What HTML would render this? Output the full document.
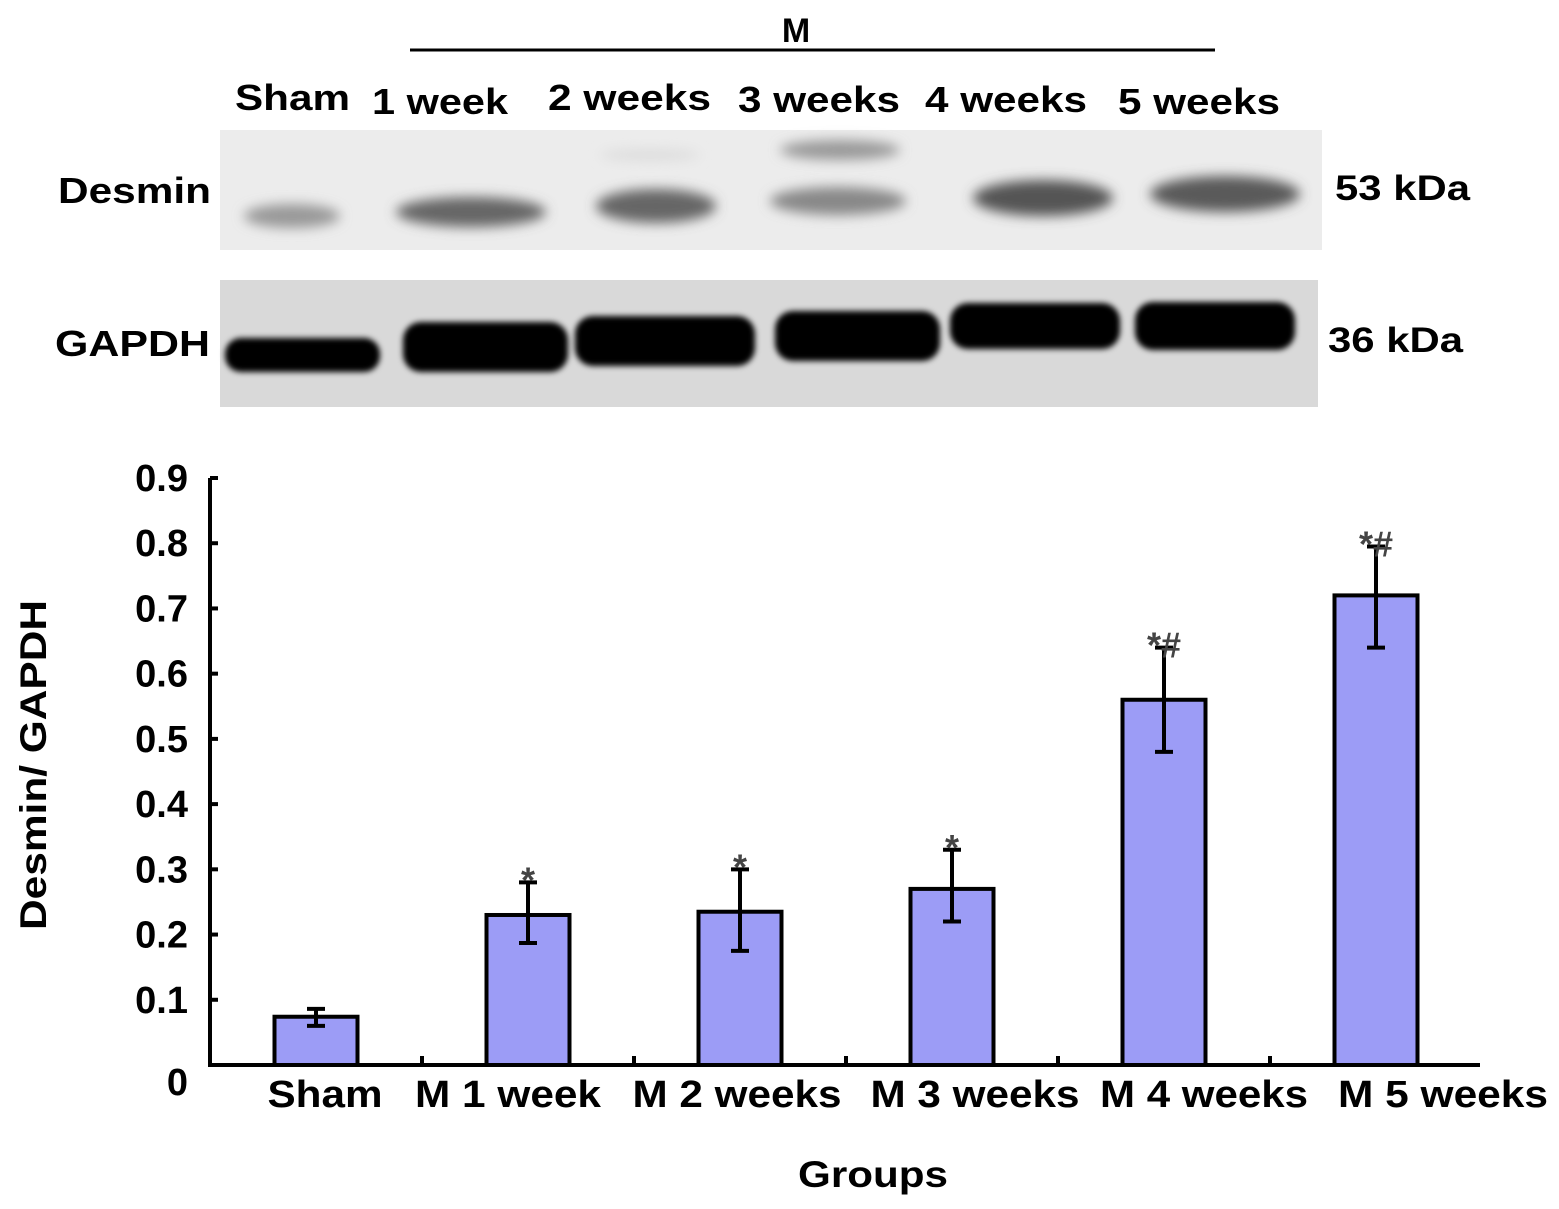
<!DOCTYPE html>
<html><head><meta charset="utf-8"><style>
body{margin:0;background:#fff;}
svg{display:block;font-family:"Liberation Sans",Arial,sans-serif;font-weight:bold;}
</style></head><body>
<svg width="1559" height="1209" viewBox="0 0 1559 1209">
<defs>
<filter id="b1" x="-20%" y="-50%" width="140%" height="200%"><feGaussianBlur stdDeviation="6"/></filter>
<filter id="b2" x="-10%" y="-30%" width="120%" height="160%"><feGaussianBlur stdDeviation="3"/></filter>
</defs>
<g>
<text x="796" y="42" font-size="34" text-anchor="middle">M</text>
<line x1="410" y1="50" x2="1215" y2="50" stroke="#000" stroke-width="3"/>
<text x="235" y="110" font-size="36" textLength="115" lengthAdjust="spacingAndGlyphs">Sham</text>
<text x="372" y="114" font-size="36" textLength="136" lengthAdjust="spacingAndGlyphs">1 week</text>
<text x="548" y="110" font-size="36" textLength="163" lengthAdjust="spacingAndGlyphs">2 weeks</text>
<text x="738" y="112" font-size="36" textLength="162" lengthAdjust="spacingAndGlyphs">3 weeks</text>
<text x="925" y="112" font-size="36" textLength="162" lengthAdjust="spacingAndGlyphs">4 weeks</text>
<text x="1118" y="114" font-size="36" textLength="162" lengthAdjust="spacingAndGlyphs">5 weeks</text>
</g>
<g>
<rect x="220" y="130" width="1102" height="120" fill="#ececec"/>
<g filter="url(#b1)" fill="#777">
<ellipse cx="292" cy="216" rx="48" ry="12" fill="#999"/>
<ellipse cx="471" cy="212" rx="75" ry="15" fill="#666"/>
<ellipse cx="656" cy="206" rx="60" ry="17" fill="#666"/>
<ellipse cx="650" cy="155" rx="50" ry="6" fill="#ddd"/>
<ellipse cx="840" cy="150" rx="60" ry="10" fill="#999"/>
<ellipse cx="838" cy="201" rx="68" ry="14" fill="#888"/>
<ellipse cx="1043" cy="198" rx="70" ry="18" fill="#555"/>
<ellipse cx="1225" cy="194" rx="75" ry="18" fill="#5a5a5a"/>
</g>
<text x="58" y="203" font-size="36" textLength="153" lengthAdjust="spacingAndGlyphs">Desmin</text>
<text x="1335" y="200" font-size="35" textLength="135" lengthAdjust="spacingAndGlyphs">53 kDa</text>
</g>
<g>
<rect x="220" y="280" width="1098" height="127" fill="#d9d9d9"/>
<g filter="url(#b2)" fill="#050505">
<rect x="225" y="338" width="155" height="34" rx="16"/>
<rect x="403" y="322" width="165" height="50" rx="18"/>
<rect x="575" y="316" width="180" height="50" rx="18"/>
<rect x="775" y="311" width="165" height="50" rx="18"/>
<rect x="950" y="303" width="170" height="46" rx="18"/>
<rect x="1135" y="302" width="160" height="48" rx="18"/>
</g>
<text x="55" y="356" font-size="36" textLength="155" lengthAdjust="spacingAndGlyphs">GAPDH</text>
<text x="1328" y="352" font-size="35" textLength="135" lengthAdjust="spacingAndGlyphs">36 kDa</text>
</g>
<g id="chart"></g>
</svg>
<script>
const categories=["Sham","M 1 week","M 2 weeks","M 3 weeks","M 4 weeks","M 5 weeks"];
const means=[0.074,0.23,0.235,0.27,0.56,0.72];
const errUpper=[0.086,0.28,0.30,0.33,0.64,0.795];
const errLower=[0.06,0.187,0.175,0.22,0.48,0.64];
const marks=["","*","*","*","*#","*#"];
const yTicks=[0.1,0.2,0.3,0.4,0.5,0.6,0.7,0.8,0.9];
const yTickLabels=["0.1","0.2","0.3","0.4","0.5","0.6","0.7","0.8","0.9"];

const NS="http://www.w3.org/2000/svg";
const g=document.getElementById('chart');
const x0=210,y0=1065,xEnd=1480,yTop=478,ppu=(y0-yTop)/0.9;
const step=212,first=316,bw=83;
const labelCx=[325,508,737,975,1204,1443];
const labelW=[115,186,209,209,208,210];
function y(v){return y0-v*ppu;}
function xc(i){return first+i*step;}
function mk(tag,attrs,parent){const e=document.createElementNS(NS,tag);for(const k in attrs)e.setAttribute(k,attrs[k]);(parent||g).appendChild(e);return e;}

let e=mk('line',{x1:x0,y1:yTop,x2:x0,y2:y0+2,stroke:'#000','stroke-width':4});


e=mk('line',{x1:x0-2,y1:y0,x2:xEnd,y2:y0,stroke:'#000','stroke-width':4});


yTicks.forEach((t,i)=>{
 let l=mk('line',{x1:x0,y1:y(t),x2:x0+8,y2:y(t),stroke:'#000','stroke-width':4});
 
 
 let tx=mk('text',{x:x0-22,y:y(t)+13,'font-size':38,'text-anchor':'end'});
 tx.textContent=yTickLabels[i];
 
 
});
let z=mk('text',{x:x0-22,y:y0+30,'font-size':38,'text-anchor':'end'});z.textContent="0";


categories.forEach((c,i)=>{
 if(i>0){let t=mk('line',{x1:xc(i)-step/2,y1:y0,x2:xc(i)-step/2,y2:y0-9,stroke:'#000','stroke-width':4});
 
 }
 let r=mk('rect',{x:xc(i)-bw/2,y:y(means[i]),width:bw,height:y0-y(means[i]),fill:'#9c9cf6',stroke:'#000','stroke-width':4});
 
 
 let el=mk('path',{d:`M${xc(i)} ${y(errUpper[i])}V${y(errLower[i])}M${xc(i)-9} ${y(errUpper[i])}H${xc(i)+9}M${xc(i)-9} ${y(errLower[i])}H${xc(i)+9}`,stroke:'#000','stroke-width':4,fill:'none'});
 
 
 if(marks[i]){let m=mk('text',{x:xc(i),y:y(errUpper[i])+10,'font-size':36,'text-anchor':'middle',fill:'#444'});
 m.textContent=marks[i];
 
 }
 let lb=mk('text',{x:labelCx[i]-labelW[i]/2,y:y0+42,'font-size':38,textLength:labelW[i],lengthAdjust:'spacingAndGlyphs'});
 lb.textContent=c;
 
 
});
let xt=mk('text',{x:798,y:1187,'font-size':37,textLength:150,lengthAdjust:'spacingAndGlyphs'});xt.textContent="Groups";


let yt=mk('text',{x:0,y:0,'font-size':37,textLength:330,lengthAdjust:'spacingAndGlyphs',transform:'translate(46,930) rotate(-90)'});yt.textContent="Desmin/ GAPDH";


</script>
</body></html>
